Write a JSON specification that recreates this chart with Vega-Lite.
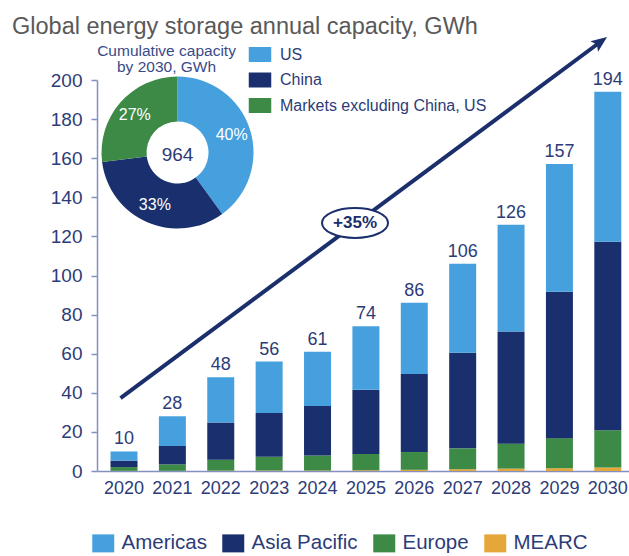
{
  "$schema": "https://vega.github.io/schema/vega-lite/v6.json",
  "width": 532,
  "height": 391,
  "autosize": "none",
  "padding": {"left": 97, "top": 80, "right": 0, "bottom": 85},
  "background": "white",
  "title": {
    "text": "Global energy storage annual capacity, GWh",
    "anchor": "start",
    "frame": "group",
    "fontSize": 23.5,
    "font": "Liberation Sans",
    "fontWeight": "normal",
    "color": "#595959",
    "baseline": "alphabetic",
    "offset": 0,
    "dx": -85,
    "dy": 21
  },
  "datasets": {
    "bars": [
      {"year": "2020", "region": "MEARC", "value": 0.1},
      {"year": "2020", "region": "Europe", "value": 1.9},
      {"year": "2020", "region": "Asia Pacific", "value": 3.3},
      {"year": "2020", "region": "Americas", "value": 4.7},
      {"year": "2021", "region": "MEARC", "value": 0.1},
      {"year": "2021", "region": "Europe", "value": 3.3},
      {"year": "2021", "region": "Asia Pacific", "value": 9.4},
      {"year": "2021", "region": "Americas", "value": 15.2},
      {"year": "2022", "region": "MEARC", "value": 0.2},
      {"year": "2022", "region": "Europe", "value": 5.6},
      {"year": "2022", "region": "Asia Pacific", "value": 19.0},
      {"year": "2022", "region": "Americas", "value": 23.2},
      {"year": "2023", "region": "MEARC", "value": 0.3},
      {"year": "2023", "region": "Europe", "value": 7.0},
      {"year": "2023", "region": "Asia Pacific", "value": 22.4},
      {"year": "2023", "region": "Americas", "value": 26.3},
      {"year": "2024", "region": "MEARC", "value": 0.3},
      {"year": "2024", "region": "Europe", "value": 7.6},
      {"year": "2024", "region": "Asia Pacific", "value": 25.4},
      {"year": "2024", "region": "Americas", "value": 27.7},
      {"year": "2025", "region": "MEARC", "value": 0.4},
      {"year": "2025", "region": "Europe", "value": 8.3},
      {"year": "2025", "region": "Asia Pacific", "value": 32.8},
      {"year": "2025", "region": "Americas", "value": 32.5},
      {"year": "2026", "region": "MEARC", "value": 0.6},
      {"year": "2026", "region": "Europe", "value": 9.1},
      {"year": "2026", "region": "Asia Pacific", "value": 39.9},
      {"year": "2026", "region": "Americas", "value": 36.4},
      {"year": "2027", "region": "MEARC", "value": 0.9},
      {"year": "2027", "region": "Europe", "value": 10.7},
      {"year": "2027", "region": "Asia Pacific", "value": 48.9},
      {"year": "2027", "region": "Americas", "value": 45.5},
      {"year": "2028", "region": "MEARC", "value": 1.2},
      {"year": "2028", "region": "Europe", "value": 12.8},
      {"year": "2028", "region": "Asia Pacific", "value": 57.3},
      {"year": "2028", "region": "Americas", "value": 54.7},
      {"year": "2029", "region": "MEARC", "value": 1.4},
      {"year": "2029", "region": "Europe", "value": 15.4},
      {"year": "2029", "region": "Asia Pacific", "value": 74.9},
      {"year": "2029", "region": "Americas", "value": 65.3},
      {"year": "2030", "region": "MEARC", "value": 1.8},
      {"year": "2030", "region": "Europe", "value": 19.1},
      {"year": "2030", "region": "Asia Pacific", "value": 96.4},
      {"year": "2030", "region": "Americas", "value": 76.7}
    ],
    "totals": [
      {"year": "2020", "total": 10},
      {"year": "2021", "total": 28},
      {"year": "2022", "total": 48},
      {"year": "2023", "total": 56},
      {"year": "2024", "total": 61},
      {"year": "2025", "total": 74},
      {"year": "2026", "total": 86},
      {"year": "2027", "total": 106},
      {"year": "2028", "total": 126},
      {"year": "2029", "total": 157},
      {"year": "2030", "total": 194}
    ],
    "donut": [
      {"market": "US", "rank": 1, "share": 0.40},
      {"market": "China", "rank": 2, "share": 0.33},
      {"market": "Markets excluding China, US", "rank": 3, "share": 0.27}
    ],
    "donutTotal": [{"total": 964, "caption": ["Cumulative capacity", "by 2030, GWh"]}],
    "growth": [{"cagr": 0.35}]
  },
  "layer": [
    {
      "layer": [
        {
          "data": {"name": "bars"},
          "mark": {"type": "bar"},
          "encoding": {
            "x": {
              "field": "year", "type": "ordinal",
              "scale": {"paddingInner": 0.442, "paddingOuter": 0.219, "align": 0.637},
              "axis": {"title": null, "labelAngle": 0, "ticks": false, "labelPadding": 8, "labelFontSize": 18, "labelColor": "#2d3c78", "labelFont": "Liberation Sans", "domainColor": "#8391c0", "domainWidth": 1.5, "grid": false, "labelOverlap": false}
            },
            "y": {
              "field": "value", "type": "quantitative", "stack": "zero",
              "scale": {"domain": [0, 200], "nice": false},
              "axis": {"title": null, "values": [0, 20, 40, 60, 80, 100, 120, 140, 160, 180, 200], "labelOverlap": false, "tickSize": 6, "tickColor": "#8391c0", "tickWidth": 1.5, "domainColor": "#8391c0", "domainWidth": 1.5, "labelFontSize": 19, "labelPadding": 9, "labelColor": "#2d3c78", "labelFont": "Liberation Sans", "grid": false}
            },
            "color": {
              "field": "region", "type": "nominal",
              "scale": {"domain": ["Americas", "Asia Pacific", "Europe", "MEARC"], "range": ["#46a0de", "#1a2f6e", "#3c8a46", "#e6a73a"]},
              "legend": {"orient": "none", "legendX": -4, "legendY": 453, "direction": "horizontal", "title": null, "symbolType": "M-1.1,-0.9H1.1V0.9H-1.1Z", "symbolSize": 400, "symbolStrokeWidth": 0, "labelFontSize": 20.5, "labelColor": "#2d3c78", "labelFont": "Liberation Sans", "columnPadding": 15, "labelOffset": 8, "padding": 0, "labelLimit": 0}
            },
            "order": {"field": "region", "sort": "descending"}
          }
        },
        {
          "data": {"name": "totals"},
          "mark": {"type": "text", "baseline": "alphabetic", "dy": -7, "fontSize": 18, "color": "#2d3c78", "font": "Liberation Sans"},
          "encoding": {
            "x": {
              "field": "year", "type": "ordinal",
              "axis": {"title": null, "labelAngle": 0, "ticks": false, "labelPadding": 8, "labelFontSize": 18, "labelColor": "#2d3c78", "labelFont": "Liberation Sans", "domainColor": "#8391c0", "domainWidth": 1.5, "grid": false, "labelOverlap": false}
            },
            "y": {
              "field": "total", "type": "quantitative",
              "scale": {"domain": [0, 200], "nice": false},
              "axis": {"title": null, "values": [0, 20, 40, 60, 80, 100, 120, 140, 160, 180, 200], "labelOverlap": false, "tickSize": 6, "tickColor": "#8391c0", "tickWidth": 1.5, "domainColor": "#8391c0", "domainWidth": 1.5, "labelFontSize": 19, "labelPadding": 9, "labelColor": "#2d3c78", "labelFont": "Liberation Sans", "grid": false}
            },
            "text": {"field": "total"}
          }
        }
      ]
    },
    {
      "layer": [
        {
          "data": {"name": "growth"},
          "mark": {"type": "rule", "strokeWidth": 4, "color": "#1b2f6c"},
          "encoding": {
            "x": {"datum": 2019.928, "type": "quantitative", "scale": {"domain": [2019.442, 2030.438], "nice": false, "zero": false}, "axis": null},
            "x2": {"datum": 2029.837},
            "y": {"datum": 37.3, "type": "quantitative", "scale": {"domain": [0, 200], "nice": false}, "axis": null},
            "y2": {"datum": 219.3}
          }
        },
        {
          "data": {"name": "growth"},
          "mark": {"type": "point", "shape": "M0,-1L0.72,0.8L0,0.42L-0.72,0.8Z", "angle": 53.4, "size": 317, "filled": true, "color": "#1b2f6c", "opacity": 1},
          "encoding": {
            "x": {"datum": 2029.837, "type": "quantitative"},
            "y": {"datum": 219.3, "type": "quantitative"}
          }
        },
        {
          "data": {"name": "growth"},
          "mark": {"type": "point", "shape": "M-1,0C-1,-0.251,-0.5523,-0.4545,0,-0.4545C0.5523,-0.4545,1,-0.251,1,0C1,0.251,0.5523,0.4545,0,0.4545C-0.5523,0.4545,-1,0.251,-1,0Z", "size": 4356, "filled": true, "fill": "white", "stroke": "#1b2f6c", "strokeWidth": 2, "opacity": 1},
          "encoding": {
            "x": {"datum": 2024.775, "type": "quantitative"},
            "y": {"datum": 126.9, "type": "quantitative"}
          }
        },
        {
          "data": {"name": "growth"},
          "mark": {"type": "text", "fontSize": 17, "fontWeight": "bold", "color": "#1b2f6c", "font": "Liberation Sans", "baseline": "middle"},
          "encoding": {
            "x": {"datum": 2024.775, "type": "quantitative"},
            "y": {"datum": 126.9, "type": "quantitative"},
            "text": {"field": "cagr", "format": "+.0%"}
          }
        },
        {
          "data": {"name": "donut"},
          "mark": {"type": "arc", "innerRadius": 31, "outerRadius": 76},
          "encoding": {
            "x": {"datum": 2021.106, "type": "quantitative"},
            "y": {"datum": 162.9, "type": "quantitative"},
            "theta": {"field": "share", "type": "quantitative", "stack": true},
            "order": {"field": "rank"},
            "color": {
              "field": "market", "type": "nominal",
              "scale": {"domain": ["US", "China", "Markets excluding China, US"], "range": ["#46a0de", "#1a2f6e", "#3c8a46"]},
              "legend": {"orient": "none", "legendX": 155, "legendY": -33.5, "direction": "vertical", "title": null, "symbolType": "M-1.5,-1H1.5V1H-1.5Z", "symbolSize": 225, "symbolStrokeWidth": 0, "labelFontSize": 16, "labelColor": "#2d3c78", "labelFont": "Liberation Sans", "labelOffset": 12, "rowPadding": 9.5, "padding": 0, "labelLimit": 0}
            }
          }
        },
        {
          "data": {"name": "donut"},
          "mark": {"type": "text", "radius": 57, "fontSize": 16, "color": "white", "font": "Liberation Sans", "baseline": "middle"},
          "encoding": {
            "x": {"datum": 2021.106, "type": "quantitative"},
            "y": {"datum": 162.9, "type": "quantitative"},
            "theta": {"field": "share", "type": "quantitative", "stack": true},
            "order": {"field": "rank"},
            "text": {"field": "share", "format": ".0%"}
          }
        },
        {
          "data": {"name": "donutTotal"},
          "mark": {"type": "text", "fontSize": 19, "color": "#2d3c78", "font": "Liberation Sans", "baseline": "middle"},
          "encoding": {
            "x": {"datum": 2021.106, "type": "quantitative"},
            "y": {"datum": 161.6, "type": "quantitative"},
            "text": {"field": "total"}
          }
        },
        {
          "data": {"name": "donutTotal"},
          "mark": {"type": "text", "fontSize": 15.5, "lineHeight": 15.5, "color": "#3a4a88", "font": "Liberation Sans", "baseline": "alphabetic", "align": "center"},
          "encoding": {
            "x": {"datum": 2020.879, "type": "quantitative"},
            "y": {"datum": 212.1, "type": "quantitative"},
            "text": {"field": "caption"}
          }
        }
      ]
    }
  ],
  "resolve": {"scale": {"x": "independent", "y": "independent", "color": "independent"}},
  "config": {"view": {"stroke": null}, "font": "Liberation Sans"}
}
